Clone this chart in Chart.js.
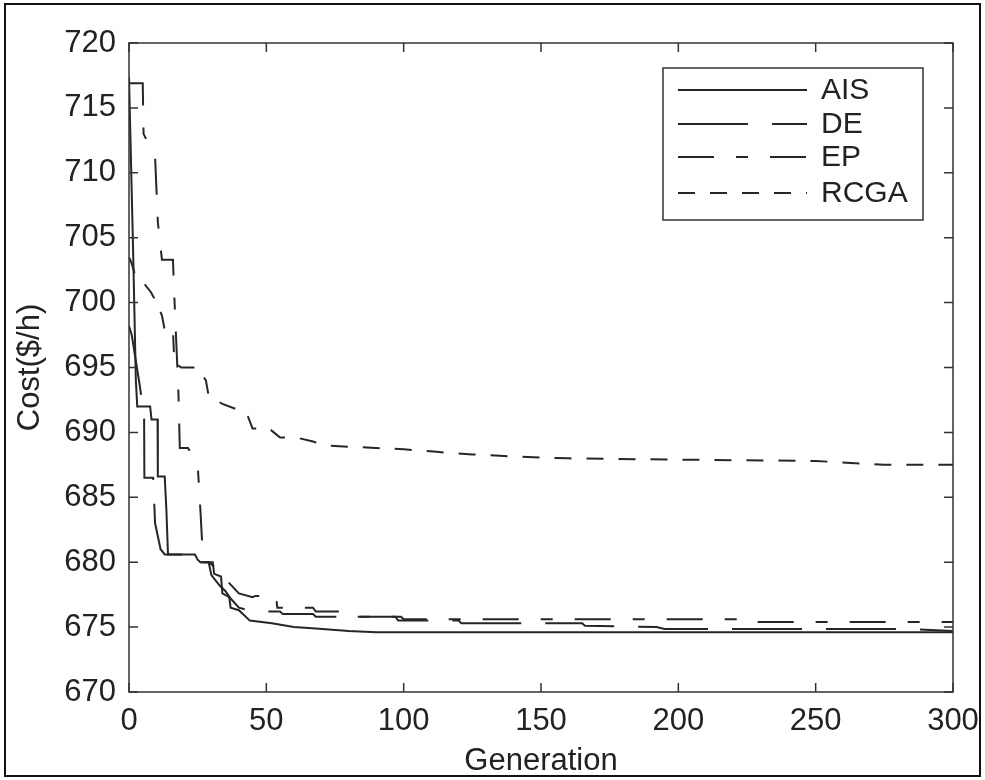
<!DOCTYPE html>
<html>
<head>
<meta charset="utf-8">
<script src="https://cdn.jsdelivr.net/npm/chart.js@4.4.1/dist/chart.umd.min.js"></script>
<style>
  html, body { margin: 0; padding: 0; background: #fff; }
  #wrap { width: 985px; height: 780px; }
</style>
</head>
<body>
<div id="wrap"><canvas id="costChart" width="985" height="780"></canvas></div>
<script>
// values (generation -> best cost $/h)
const aisGen  = [0, 0.6, 1.5, 2.5, 3, 7.7, 8.2, 10.4, 10.5, 13, 13.6, 14.2, 24, 25, 26, 30.5, 31, 33.5, 34, 36.5, 37, 40, 44, 52, 60, 68, 80, 90, 98, 300];
const aisCost = [717.4, 712, 704, 694, 692, 692, 691, 691, 686.6, 686.6, 684.1, 680.6, 680.6, 680.2, 680, 680, 679.1, 678.9, 677.6, 677.3, 676.5, 676.3, 675.5, 675.3, 675, 674.9, 674.7, 674.6, 674.6, 674.6];

const deGen  = [0, 1, 2.5, 4, 5.5, 5.6, 8.8, 9.5, 11.5, 13, 24, 25, 29, 30, 33, 35, 37, 40, 45, 55, 56, 67, 68, 97, 98, 120, 121, 165, 166, 192, 195, 285, 300];
const deCost = [698.2, 697.5, 695.5, 693.5, 691.2, 686.5, 686.5, 683, 681, 680.6, 680.6, 680, 680, 679, 678.2, 677.8, 677.2, 676.5, 676.2, 676.2, 676, 676, 675.8, 675.8, 675.5, 675.5, 675.3, 675.3, 675.1, 675, 674.85, 674.85, 674.7];

const epGen  = [0, 5, 5.3, 9.5, 10, 10.5, 12, 16, 16.5, 17.5, 18, 18.5, 21.5, 25, 26, 27, 29, 32, 36, 40, 45, 46, 53.5, 54, 67, 68, 78, 79, 99, 100, 225, 226, 300];
const epCost = [716.9, 716.9, 713, 711.2, 708.7, 706.2, 703.3, 703.3, 700.5, 695.5, 693, 688.8, 688.8, 687.5, 684, 680, 680, 679.5, 678.5, 677.6, 677.3, 677.4, 677.4, 676.5, 676.5, 676.2, 676.2, 675.8, 675.8, 675.6, 675.6, 675.4, 675.4];

const rcgaGen  = [0, 1, 2, 5, 8, 10, 12, 13, 16, 16.5, 19, 25, 28, 29, 34, 39, 43, 45, 51, 55, 61, 67, 71, 80, 100, 112, 125, 135, 145, 160, 200, 250, 275, 300];
const rcgaCost = [703.5, 703, 702.3, 701.6, 700.8, 700, 699, 697.9, 697.9, 695.4, 695, 695, 694, 692.8, 692.2, 691.8, 691.4, 690.3, 690.3, 689.6, 689.6, 689.3, 689, 688.9, 688.7, 688.5, 688.3, 688.2, 688.1, 688, 687.9, 687.8, 687.5, 687.5];

const seriesNames = ['AIS', 'DE', 'EP', 'RCGA'];
const seriesDash  = [[], [70, 24], [36, 22, 12, 22], [17, 15]];

const xTicks = [0, 50, 100, 150, 200, 250, 300];
const yTicks = [670, 675, 680, 685, 690, 695, 700, 705, 710, 715, 720];

const FONT = '"Liberation Sans", Arial, Helvetica, sans-serif';
const INK = '#222';

function pairUp(xs, ys) {
    return xs.map((g, i) => ({ x: g, y: ys[i] }));
}

const allData = [
    pairUp(aisGen, aisCost),
    pairUp(deGen, deCost),
    pairUp(epGen, epCost),
    pairUp(rcgaGen, rcgaCost)
];

//box around plot + inward ticks on all 4 sides, plus the outer picture frame
const boxPlugin = {
    id: 'matlabBox',
    afterDraw(chart) {
        const { ctx, chartArea: a, scales } = chart;
        const len = 9;
        ctx.save();
        ctx.strokeStyle = '#333';
        ctx.lineWidth = 1.5;
        ctx.strokeRect(a.left, a.top, a.right - a.left, a.bottom - a.top);
        ctx.beginPath();
        scales.x.ticks.forEach(t => {
            const px = scales.x.getPixelForValue(t.value);
            ctx.moveTo(px, a.bottom); ctx.lineTo(px, a.bottom - len);
            ctx.moveTo(px, a.top); ctx.lineTo(px, a.top + len);
        });
        scales.y.ticks.forEach(t => {
            const py = scales.y.getPixelForValue(t.value);
            ctx.moveTo(a.left, py); ctx.lineTo(a.left + len, py);
            ctx.moveTo(a.right, py); ctx.lineTo(a.right - len, py);
        });
        ctx.stroke();
        ctx.strokeStyle = '#111';
        ctx.lineWidth = 2;
        ctx.strokeRect(5, 4, 975, 772);
        ctx.restore();
    }
};

//legend box in the upper right corner, drawn from the dataset styles
const legendPlugin = {
    id: 'boxLegend',
    afterDatasetsDraw(chart) {
        const ctx = chart.ctx;
        const bx = 663, by = 68, bw = 260, bh = 152;
        const rows = [90, 124, 157, 193];
        ctx.save();
        ctx.fillStyle = '#fff';
        ctx.fillRect(bx, by, bw, bh);
        ctx.strokeStyle = '#333';
        ctx.lineWidth = 1.5;
        ctx.strokeRect(bx, by, bw, bh);
        chart.data.datasets.forEach((ds, i) => {
            ctx.strokeStyle = ds.borderColor;
            ctx.lineWidth = ds.borderWidth;
            ctx.setLineDash(ds.borderDash || []);
            ctx.beginPath();
            ctx.moveTo(678, rows[i]);
            ctx.lineTo(807, rows[i]);
            ctx.stroke();
            ctx.setLineDash([]);
            ctx.fillStyle = INK;
            ctx.font = '30px ' + FONT;
            ctx.textBaseline = 'middle';
            ctx.fillText(ds.label, 821, rows[i] + 1);
        });
        ctx.restore();
    }
};

const ctx = document.getElementById('costChart').getContext('2d');
new Chart(ctx, {
    type: 'line',
    data: {
        datasets: seriesNames.map((name, i) => ({
            label: name,
            data: allData[i],
            borderColor: '#262626',
            borderWidth: 2,
            borderDash: seriesDash[i],
            pointRadius: 0,
            tension: 0,
            fill: false
        }))
    },
    options: {
        responsive: false,
        animation: false,
        layout: { padding: { left: 4, right: 32, top: 43, bottom: 0 } },
        plugins: { legend: { display: false }, tooltip: { enabled: false } },
        scales: {
            x: {
                type: 'linear',
                min: 0, max: 300,
                afterBuildTicks: s => { s.ticks = xTicks.map(v => ({ value: v })); },
                //fixed size, no label overhang, so the plot box lands where the reference has it
                afterFit: s => { s.height = 88; s.paddingLeft = 0; s.paddingRight = 0; },
                grid: { display: false, drawTicks: false },
                border: { display: false },
                ticks: { color: INK, font: { family: FONT, size: 31 }, padding: 11, maxRotation: 0 },
                title: { display: true, text: 'Generation', color: INK, font: { family: FONT, size: 31, lineHeight: 1.2 }, padding: { top: 0, bottom: 0 } }
            },
            y: {
                type: 'linear',
                min: 670, max: 720,
                afterBuildTicks: s => { s.ticks = yTicks.map(v => ({ value: v })); },
                afterFit: s => { s.width = 125; s.paddingTop = 0; s.paddingBottom = 0; },
                grid: { display: false, drawTicks: false },
                border: { display: false },
                ticks: { color: INK, font: { family: FONT, size: 31 }, padding: 13 },
                title: { display: true, text: 'Cost($/h)', color: INK, font: { family: FONT, size: 31, lineHeight: 1.2 }, padding: { top: 8, bottom: 0 } }
            }
        }
    },
    plugins: [boxPlugin, legendPlugin]
});
</script>
</body>
</html>
